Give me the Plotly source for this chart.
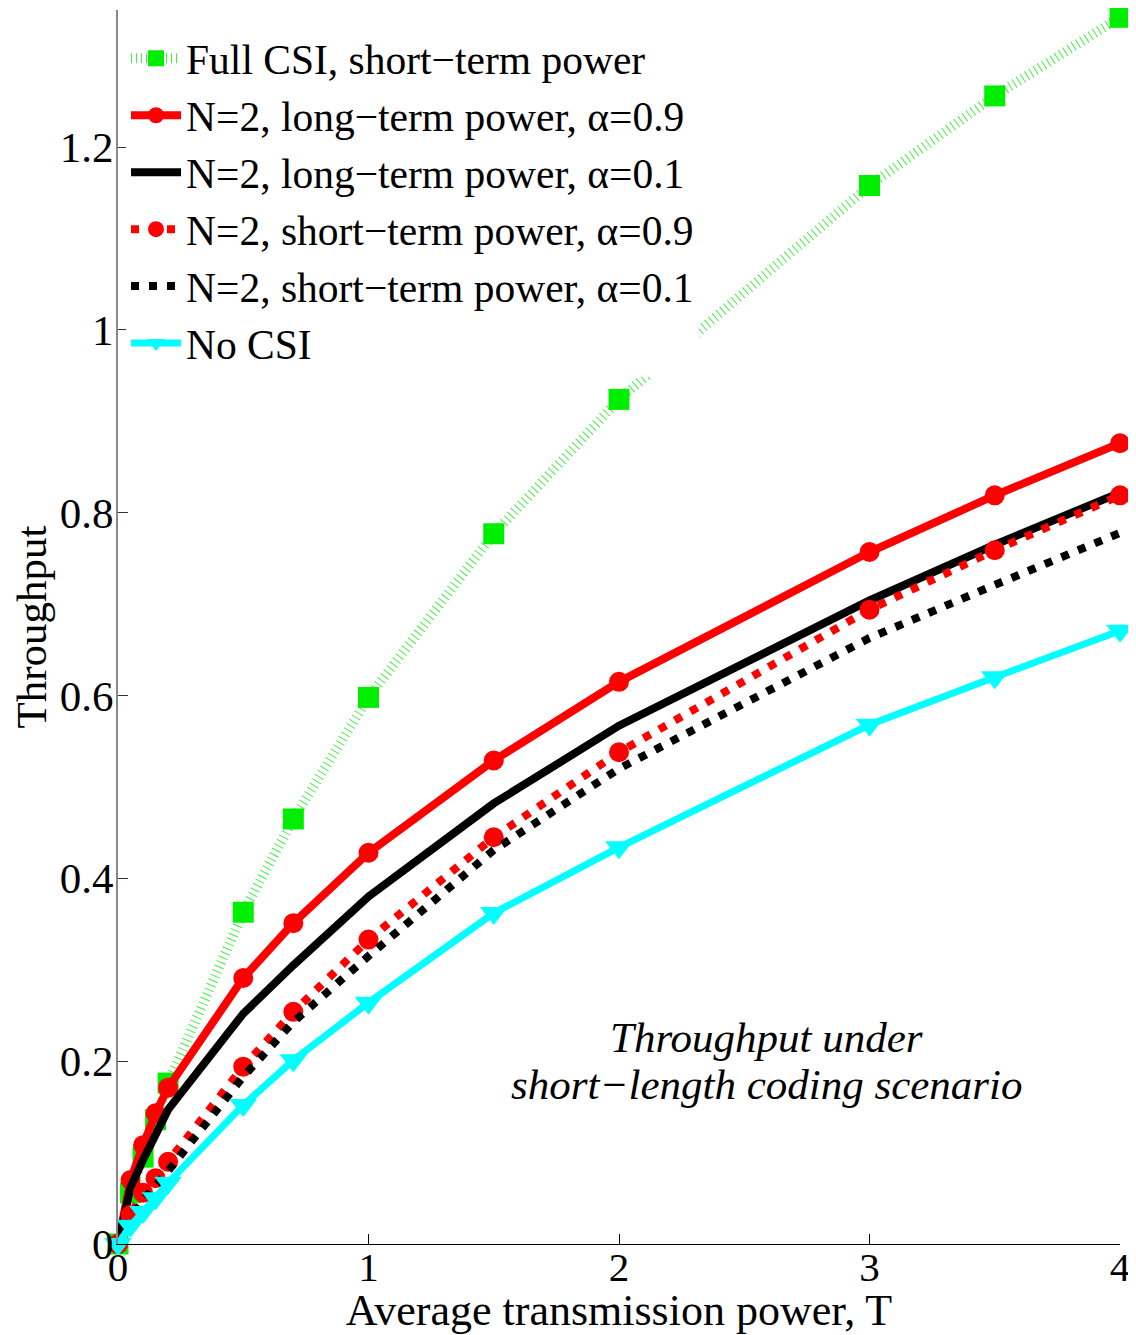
import plotly.graph_objects as go

T = [0, 0.05, 0.1, 0.15, 0.2, 0.5, 0.7, 1, 1.5, 2, 3, 3.5, 4]

full_csi_short = [0, 0.056, 0.095, 0.136, 0.176, 0.363, 0.465, 0.598, 0.777, 0.924, 1.158, 1.256, 1.342]
n2_long_09 = [0, 0.070, 0.108, 0.143, 0.171, 0.291, 0.351, 0.428, 0.529, 0.615, 0.757, 0.819, 0.876]
n2_long_01 = [0, 0.062, 0.092, 0.122, 0.147, 0.252, 0.305, 0.380, 0.482, 0.567, 0.704, 0.765, 0.822]
n2_short_09 = [0, 0.032, 0.056, 0.072, 0.090, 0.194, 0.254, 0.333, 0.445, 0.538, 0.694, 0.759, 0.819]
n2_short_01 = [0, 0.028, 0.048, 0.064, 0.080, 0.183, 0.243, 0.315, 0.431, 0.520, 0.663, 0.721, 0.778]
no_csi = [0, 0.020, 0.035, 0.050, 0.067, 0.152, 0.201, 0.264, 0.362, 0.434, 0.568, 0.620, 0.671]

names = [
    "Full CSI, short\u2212term power",
    "N=2, long\u2212term power, \u03b1=0.9",
    "N=2, long\u2212term power, \u03b1=0.1",
    "N=2, short\u2212term power, \u03b1=0.9",
    "N=2, short\u2212term power, \u03b1=0.1",
    "No CSI",
]

note_lines = ["Throughput under", "short\u2212length coding scenario"]
x_ticks = [0, 1, 2, 3, 4]
y_ticks = [0, 0.2, 0.4, 0.6, 0.8, 1.0, 1.2]
y_ticktext = ["0", "0.2", "0.4", "0.6", "0.8", "1", "1.2"]

FONT = "Liberation Serif, Times New Roman, serif"

fig = go.Figure()
fig.add_trace(go.Scatter(x=T, y=full_csi_short, name=names[0], mode="lines+markers",
                         line=dict(color="#44ee44", width=10, dash="1px,4px"),
                         marker=dict(symbol="square", size=21, color="#00ee00"),
                         cliponaxis=False))
fig.add_trace(go.Scatter(x=T, y=n2_long_09, name=names[1], mode="lines+markers",
                         line=dict(color="#ff0000", width=8),
                         marker=dict(symbol="circle", size=20, color="#ff0000"),
                         cliponaxis=False))
fig.add_trace(go.Scatter(x=T, y=n2_long_01, name=names[2], mode="lines",
                         line=dict(color="#000000", width=8),
                         cliponaxis=False))
fig.add_trace(go.Scatter(x=T, y=n2_short_09, name=names[3], mode="lines+markers",
                         line=dict(color="#ff0000", width=8, dash="8px,10px"),
                         marker=dict(symbol="circle", size=20, color="#ff0000"),
                         cliponaxis=False))
fig.add_trace(go.Scatter(x=T, y=n2_short_01, name=names[4], mode="lines",
                         line=dict(color="#000000", width=8, dash="8px,10px"),
                         cliponaxis=False))
fig.add_trace(go.Scatter(x=T, y=no_csi, name=names[5], mode="lines+markers",
                         line=dict(color="#00ffff", width=7),
                         marker=dict(symbol="triangle-down", size=24, color="#00ffff"),
                         cliponaxis=False))

fig.add_annotation(x=2.59, y=0.2264, xref="x", yref="y",
                   text="<i>" + note_lines[0] + "</i>",
                   showarrow=False, font=dict(family=FONT, size=43, color="black"))
fig.add_annotation(x=2.59, y=0.174, xref="x", yref="y",
                   text="<i>" + note_lines[1] + "</i>",
                   showarrow=False, font=dict(family=FONT, size=43, color="black"))

fig.update_layout(
    width=1128, height=1327,
    margin=dict(l=110, r=16, t=2, b=91),
    plot_bgcolor="white", paper_bgcolor="white",
    font=dict(family=FONT, color="black", size=43),
    showlegend=True,
    legend=dict(x=0.008, y=0.988, xanchor="left", yanchor="top",
                bgcolor="white", borderwidth=0,
                font=dict(family=FONT, size=41.5, color="black"),
                itemwidth=50, tracegroupgap=0),
    xaxis=dict(range=[0, 4], tickvals=x_ticks, ticktext=[str(v) for v in x_ticks],
               showline=True, linecolor="black", linewidth=1,
               ticks="inside", ticklen=10, tickcolor="black",
               ticklabelstandoff=-13,
               showgrid=False, zeroline=False, automargin=False,
               tickfont=dict(family=FONT, size=41),
               title=dict(text="Average transmission power, T", font=dict(family=FONT, size=44), standoff=2)),
    yaxis=dict(range=[0, 1.35], tickvals=y_ticks, ticktext=y_ticktext,
               showline=True, linecolor="#888888", linewidth=2,
               ticks="inside", ticklen=10, tickcolor="#333333",
               ticklabelstandoff=-6,
               showgrid=False, zeroline=False, automargin=False,
               tickfont=dict(family=FONT, size=43),
               title=dict(text="Throughput", font=dict(family=FONT, size=43), standoff=4)),
)

fig.write_html("out.html")
